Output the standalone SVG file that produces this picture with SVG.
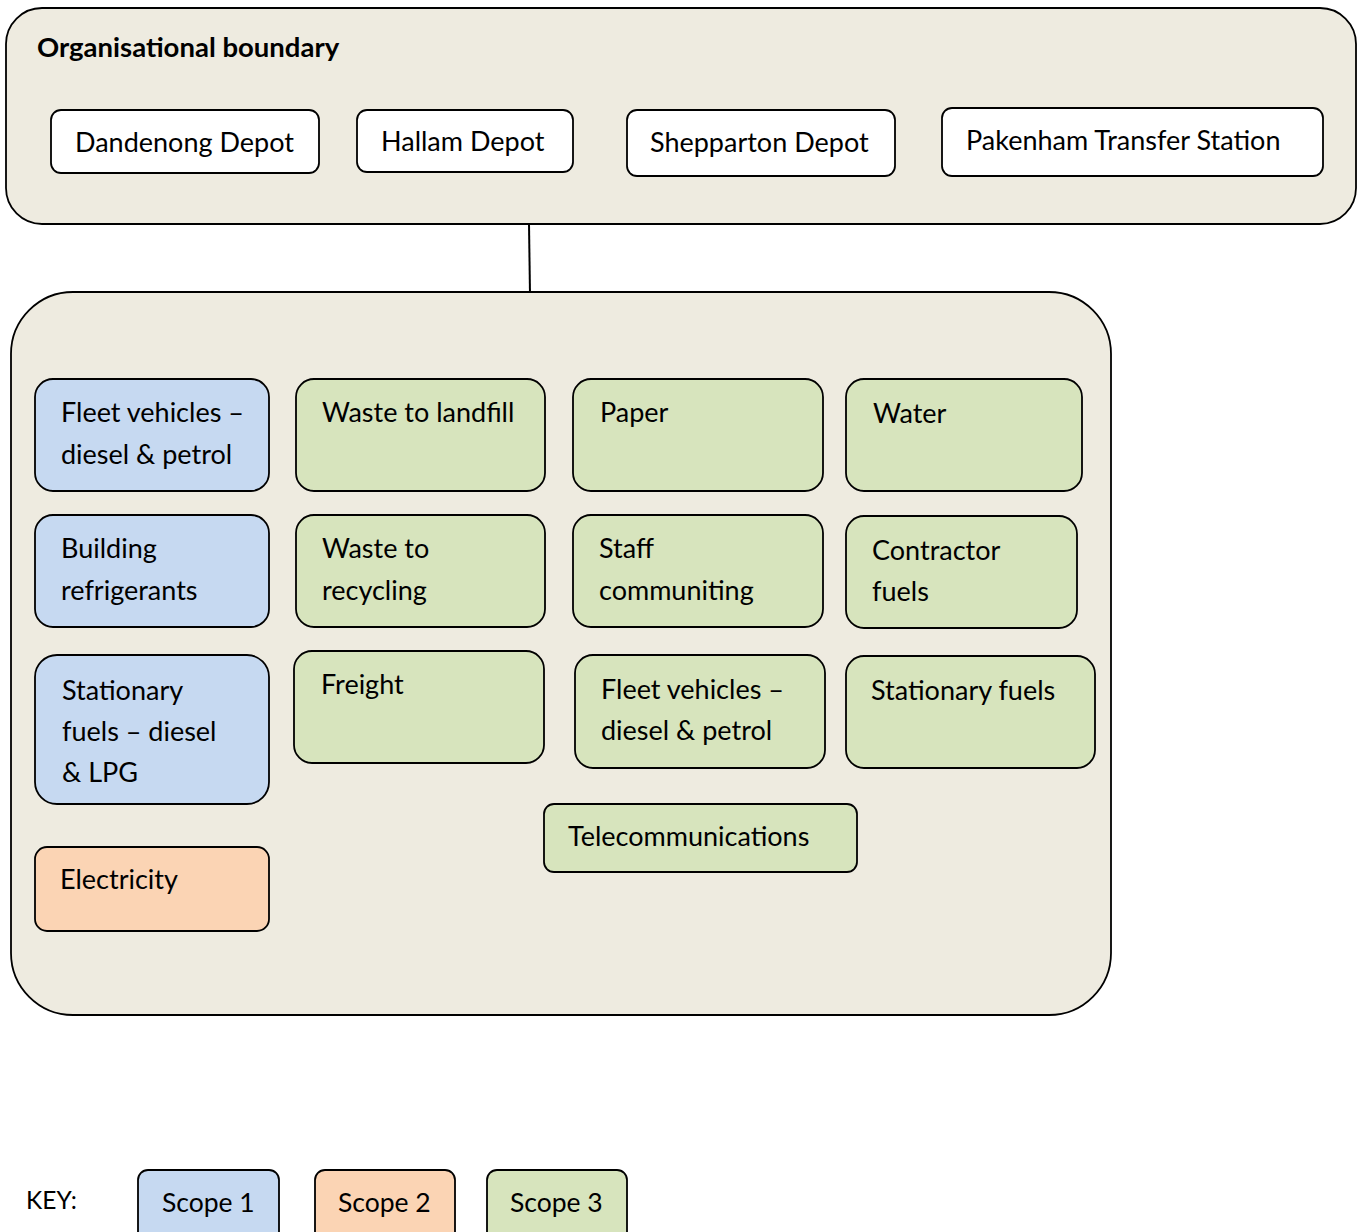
<svg xmlns="http://www.w3.org/2000/svg" width="1365" height="1232" viewBox="0 0 1365 1232">
<style>
text{font-family:Lato,"Liberation Sans",sans-serif;font-size:27px;fill:#000}
.t{font-weight:bold;font-size:27.5px}
.k{font-size:24.5px}
.ks{font-size:26.5px}
.cont{fill:#EEEBE0;stroke:#000;stroke-width:1.8}
.site{fill:#fff;stroke:#000;stroke-width:1.8}
.s1{fill:#C6D9F1;stroke:#000;stroke-width:1.8}
.s2{fill:#FBD4B4;stroke:#000;stroke-width:1.8}
.s3{fill:#D7E4BD;stroke:#000;stroke-width:1.8}
</style>
<rect width="1365" height="1232" fill="#fff"/>
<g id="org-boundary">
<rect class="cont" x="6" y="8" width="1350" height="216" rx="36"/>
<text class="t" x="37" y="57">Organisational boundary</text>
</g>
<g id="dandenong"><rect class="site" x="51" y="110" width="268" height="63" rx="10"/><text x="75" y="152">Dandenong Depot</text></g>
<g id="hallam"><rect class="site" x="357" y="110" width="216" height="62" rx="10"/><text x="381" y="151">Hallam Depot</text></g>
<g id="shepparton"><rect class="site" x="627" y="110" width="268" height="66" rx="10"/><text x="650" y="152">Shepparton Depot</text></g>
<g id="pakenham"><rect class="site" x="942" y="108" width="381" height="68" rx="10"/><text x="966" y="150">Pakenham Transfer Station</text></g>
<g id="connectors"><line x1="529" y1="224" x2="530" y2="294" stroke="#000" stroke-width="2"/></g>
<g id="emissions"><rect class="cont" x="11" y="292" width="1100" height="723" rx="62"/></g>
<g id="fleet1"><rect class="s1" x="35" y="379" width="234" height="112" rx="18"/><text x="61" y="422">Fleet vehicles –</text><text x="61" y="464">diesel &amp; petrol</text></g>
<g id="landfill"><rect class="s3" x="296" y="379" width="249" height="112" rx="18"/><text x="322" y="422">Waste to landfill</text></g>
<g id="paper"><rect class="s3" x="573" y="379" width="250" height="112" rx="18"/><text x="600" y="422">Paper</text></g>
<g id="water"><rect class="s3" x="846" y="379" width="236" height="112" rx="18"/><text x="873" y="423">Water</text></g>
<g id="refrigerants"><rect class="s1" x="35" y="515" width="234" height="112" rx="18"/><text x="61" y="558">Building</text><text x="61" y="600">refrigerants</text></g>
<g id="recycling"><rect class="s3" x="296" y="515" width="249" height="112" rx="18"/><text x="322" y="558">Waste to</text><text x="322" y="600">recycling</text></g>
<g id="staff"><rect class="s3" x="573" y="515" width="250" height="112" rx="18"/><text x="599" y="558">Staff</text><text x="599" y="600">communiting</text></g>
<g id="contractor"><rect class="s3" x="846" y="516" width="231" height="112" rx="18"/><text x="872" y="560">Contractor</text><text x="872" y="601">fuels</text></g>
<g id="stationary1"><rect class="s1" x="35" y="655" width="234" height="149" rx="22"/><text x="62" y="700">Stationary</text><text x="62" y="741">fuels – diesel</text><text x="62" y="782">&amp; LPG</text></g>
<g id="freight"><rect class="s3" x="294" y="651" width="250" height="112" rx="18"/><text x="321" y="694">Freight</text></g>
<g id="fleet3"><rect class="s3" x="575" y="655" width="250" height="113" rx="18"/><text x="601" y="699">Fleet vehicles –</text><text x="601" y="740">diesel &amp; petrol</text></g>
<g id="stationary3"><rect class="s3" x="846" y="656" width="249" height="112" rx="18"/><text x="871" y="700">Stationary fuels</text></g>
<g id="telecom"><rect class="s3" x="544" y="804" width="313" height="68" rx="10"/><text x="568" y="846">Telecommunications</text></g>
<g id="electricity"><rect class="s2" x="35" y="847" width="234" height="84" rx="12"/><text x="60" y="889">Electricity</text></g>
<g id="key">
<text class="k" x="26" y="1209">KEY:</text>
<rect class="s1" x="138" y="1170" width="141" height="75" rx="10"/><text class="ks" x="162" y="1212">Scope 1</text>
<rect class="s2" x="315" y="1170" width="140" height="75" rx="10"/><text class="ks" x="338" y="1212">Scope 2</text>
<rect class="s3" x="487" y="1170" width="140" height="75" rx="10"/><text class="ks" x="510" y="1212">Scope 3</text>
</g>
</svg>
